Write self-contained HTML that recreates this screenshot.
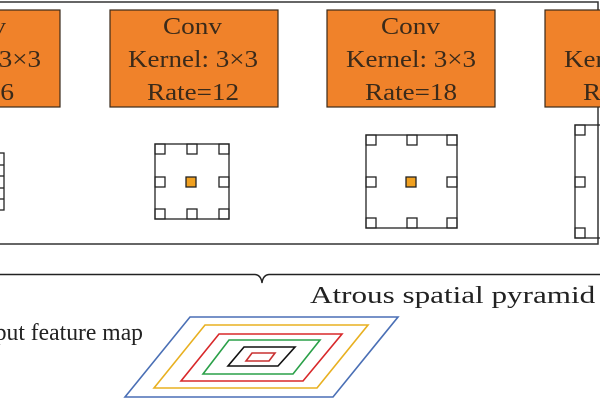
<!DOCTYPE html>
<html><head><meta charset="utf-8"><style>
html,body{margin:0;padding:0;background:#fff;width:600px;height:400px;overflow:hidden}
</style></head><body>
<svg width="600" height="400" viewBox="0 0 600 400" xmlns="http://www.w3.org/2000/svg" font-family="Liberation Serif, serif">
<rect x="-5" y="2" width="603" height="242" fill="none" stroke="#333" stroke-width="1.5"/>
<g fill="#f0822a" stroke="#3a2a1a" stroke-width="1.2">
<rect x="-20" y="10" width="80" height="97"/>
<rect x="110" y="10" width="168" height="97"/>
<rect x="327" y="10" width="168" height="97"/>
<rect x="545" y="10" width="80" height="97"/>
</g>
<g fill="#3a2a1a" font-size="24" lengthAdjust="spacingAndGlyphs">
<text x="-53" y="34" textLength="59" lengthAdjust="spacingAndGlyphs">Conv</text><text x="-89" y="67" textLength="130" lengthAdjust="spacingAndGlyphs">Kernel: 3×3</text><text x="-66" y="100" textLength="80" lengthAdjust="spacingAndGlyphs">Rate=6</text>
<text x="163" y="34" textLength="59" lengthAdjust="spacingAndGlyphs">Conv</text><text x="128" y="67" textLength="130" lengthAdjust="spacingAndGlyphs">Kernel: 3×3</text><text x="147" y="100" textLength="92" lengthAdjust="spacingAndGlyphs">Rate=12</text>
<text x="381" y="34" textLength="59" lengthAdjust="spacingAndGlyphs">Conv</text><text x="346" y="67" textLength="130" lengthAdjust="spacingAndGlyphs">Kernel: 3×3</text><text x="365" y="100" textLength="92" lengthAdjust="spacingAndGlyphs">Rate=18</text>
<text x="599" y="34" textLength="59" lengthAdjust="spacingAndGlyphs">Conv</text><text x="564" y="67" textLength="130" lengthAdjust="spacingAndGlyphs">Kernel: 3×3</text><text x="583" y="100" textLength="92" lengthAdjust="spacingAndGlyphs">Rate=24</text>
</g>
<g fill="none" stroke="#222" stroke-width="1.3">
<rect x="-30" y="153" width="34" height="57"/>
<line x1="-10" y1="165" x2="4" y2="165"/><line x1="-10" y1="176" x2="4" y2="176"/><line x1="-10" y1="188" x2="4" y2="188"/><line x1="-10" y1="199" x2="4" y2="199"/>
<rect x="155" y="144" width="74" height="75"/>
<rect x="155" y="144" width="10" height="10"/><rect x="187" y="144" width="10" height="10"/><rect x="219" y="144" width="10" height="10"/>
<rect x="155" y="177" width="10" height="10"/><rect x="219" y="177" width="10" height="10"/>
<rect x="155" y="209" width="10" height="10"/><rect x="187" y="209" width="10" height="10"/><rect x="219" y="209" width="10" height="10"/>
<rect x="366" y="135" width="91" height="93"/>
<rect x="366" y="135" width="10" height="10"/><rect x="407" y="135" width="10" height="10"/><rect x="447" y="135" width="10" height="10"/>
<rect x="366" y="177" width="10" height="10"/><rect x="447" y="177" width="10" height="10"/>
<rect x="366" y="218" width="10" height="10"/><rect x="407" y="218" width="10" height="10"/><rect x="447" y="218" width="10" height="10"/>
<rect x="575" y="125" width="60" height="113"/>
<rect x="575" y="125" width="10" height="10"/><rect x="575" y="177" width="10" height="10"/><rect x="575" y="228" width="10" height="10"/>
</g>
<rect x="186" y="177" width="10" height="10" fill="#f0a020" stroke="#222" stroke-width="1.3"/>
<rect x="406" y="177" width="10" height="10" fill="#f0a020" stroke="#222" stroke-width="1.3"/>
<path d="M0 274.5 H255 Q261 275 262 283 Q263 275 269 274.5 H600" fill="none" stroke="#222" stroke-width="1.4"/>
<text x="310" y="303" font-size="24" fill="#222" textLength="388" lengthAdjust="spacingAndGlyphs">Atrous spatial pyramid pooling</text>
<text x="-25" y="340" font-size="24" fill="#222" textLength="168" lengthAdjust="spacingAndGlyphs">Input feature map</text>
<g fill="none" stroke-width="1.6">
<polygon points="190,317 398,317 333,397 125,397" stroke="#4a6fb5"/>
<polygon points="205,325 368,325 317,388 154,388" stroke="#e8b020"/>
<polygon points="219,334 342,334 303,381 181,381" stroke="#d8282a"/>
<polygon points="229,340 320,340 293,374 203,374" stroke="#2aa048"/>
<polygon points="244,347 295,347 278,366 228,366" stroke="#111"/>
<polygon points="252,353 275,353 269,361 246,361" stroke="#c83030"/>
</g>
</svg>
</body></html>
